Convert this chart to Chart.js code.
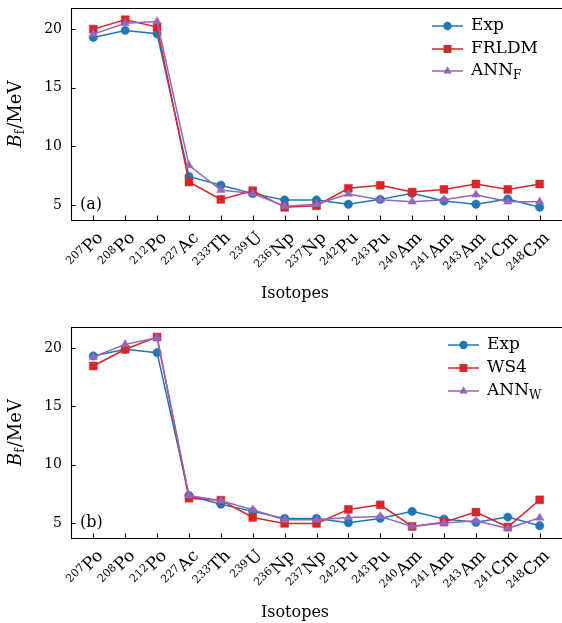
<!DOCTYPE html>
<html>
<head>
<meta charset="utf-8">
<script src="https://cdn.jsdelivr.net/npm/chart.js@4.4.0/dist/chart.umd.min.js"></script>
<style>
  html, body { margin: 0; padding: 0; background: #fff; overflow: hidden; }
  .panel { position: absolute; left: 0; width: 562px; }
  #wrapA { top: 0; height: 310px; }
  #wrapB { top: 310px; height: 313px; }
</style>
</head>
<body>
<div class="panel" id="wrapA"><canvas id="chartA"></canvas></div>
<div class="panel" id="wrapB"><canvas id="chartB"></canvas></div>
<script>
// --- dados ---
// número de massa e símbolo de cada isótopo
const massNumbers = ['207', '208', '212', '227', '233', '239', '236', '237', '242', '243', '240', '241', '243', '241', '248'];
const elements    = ['Po', 'Po', 'Po', 'Ac', 'Th', 'U', 'Np', 'Np', 'Pu', 'Pu', 'Am', 'Am', 'Am', 'Cm', 'Cm'];
const yTicks = [5, 10, 15, 20];

// painel (a)
const expA   = [19.29, 19.89, 19.60, 7.44, 6.68, 5.97, 5.43, 5.43, 5.06, 5.48, 6.00, 5.34, 5.06, 5.51, 4.80];
const frldm  = [20.00, 20.80, 20.17, 6.96, 5.48, 6.22, 4.80, 4.94, 6.42, 6.68, 6.10, 6.33, 6.79, 6.33, 6.79];
const annF   = [19.57, 20.50, 20.65, 8.38, 6.28, 5.97, 4.89, 5.06, 5.94, 5.45, 5.28, 5.45, 5.88, 5.28, 5.28];

// painel (b)
const expB   = [19.32, 19.89, 19.60, 7.36, 6.62, 6.00, 5.40, 5.40, 5.03, 5.40, 6.00, 5.34, 5.06, 5.51, 4.77];
const ws4    = [18.46, 19.89, 20.94, 7.13, 6.96, 5.48, 4.97, 4.97, 6.17, 6.56, 4.71, 5.08, 5.94, 4.66, 6.99];
const annW   = [19.23, 20.31, 20.88, 7.36, 6.91, 6.14, 5.28, 5.28, 5.48, 5.57, 4.71, 5.00, 5.20, 4.54, 5.45];

const BLUE = '#1f77b4', RED = '#d62728', PURPLE = '#9467bd';
const SERIF = "'DejaVu Serif', 'Liberation Serif', serif";

function toPoints(arr) {
  return arr.map((v, i) => ({ x: i, y: v }));
}

function series(label, data, color, style, order) {
  const radius = style === 'rect' ? 5.6 : (style === 'triangle' ? 4.8 : 4.2);
  return {
    label,
    data: toPoints(data),
    borderColor: color,
    backgroundColor: color,
    pointBackgroundColor: color,
    pointBorderColor: color,
    pointBorderWidth: 0.5,
    pointStyle: style,
    pointRadius: radius,
    borderWidth: 1.5,
    tension: 0,
    order
  };
}

// marcador simples para a legenda
function drawMarker(ctx, style, x, y, r, color) {
  ctx.fillStyle = color;
  ctx.beginPath();
  if (style === 'rect') {
    const s = r * Math.SQRT1_2;
    ctx.rect(x - s, y - s, 2 * s, 2 * s);
  } else if (style === 'triangle') {
    const w = r * Math.sqrt(3) / 2;
    ctx.moveTo(x, y - r);
    ctx.lineTo(x + w, y + r / 2);
    ctx.lineTo(x - w, y + r / 2);
    ctx.closePath();
  } else {
    ctx.arc(x, y, r, 0, Math.PI * 2);
  }
  ctx.fill();
}

// moldura, ticks internos, rótulos do eixo x, legenda, títulos
const decorPlugin = {
  id: 'decor',
  afterDraw(chart, args, o) {
    const { ctx, chartArea: a, scales: { x, y } } = chart;
    ctx.save();
    ctx.strokeStyle = '#000';
    ctx.lineWidth = 1.1;

    // ticks para dentro
    ctx.beginPath();
    x.ticks.forEach(t => {
      const px = Math.round(x.getPixelForValue(t.value)) + 0.5;
      ctx.moveTo(px, a.bottom);
      ctx.lineTo(px, a.bottom - 4.5);
    });
    y.ticks.forEach(t => {
      const py = Math.round(y.getPixelForValue(t.value)) + 0.5;
      ctx.moveTo(a.left, py);
      ctx.lineTo(a.left + 4.5, py);
    });
    ctx.stroke();

    // moldura (lado direito fica fora do quadro)
    ctx.beginPath();
    ctx.moveTo(a.right + 2, Math.round(a.top) + 0.5);
    ctx.lineTo(Math.round(a.left) + 0.5, Math.round(a.top) + 0.5);
    ctx.lineTo(Math.round(a.left) + 0.5, Math.round(a.bottom) + 0.5);
    ctx.lineTo(a.right + 2, Math.round(a.bottom) + 0.5);
    ctx.stroke();

    // rótulos do eixo x: ^{A}X girados 45°
    ctx.fillStyle = '#000';
    ctx.textBaseline = 'alphabetic';
    ctx.textAlign = 'left';
    x.ticks.forEach(t => {
      const i = t.value;
      const px = x.getPixelForValue(i);
      ctx.save();
      ctx.translate(px + 2, a.bottom + 10);
      ctx.rotate(-Math.PI / 4);
      ctx.font = '17px ' + SERIF;
      const wEl = ctx.measureText(elements[i]).width;
      ctx.fillText(elements[i], -wEl, 12);
      ctx.font = '11px ' + SERIF;
      const wMa = ctx.measureText(massNumbers[i]).width;
      ctx.fillText(massNumbers[i], -wEl - wMa - 0.5, 7);
      ctx.restore();
    });

    // legenda
    ctx.textBaseline = 'middle';
    chart.data.datasets.forEach((ds, i) => {
      const ly = o.legendY[i];
      ctx.strokeStyle = ds.borderColor;
      ctx.lineWidth = 1.5;
      ctx.beginPath();
      ctx.moveTo(o.legendX, ly);
      ctx.lineTo(o.legendX + 31, ly);
      ctx.stroke();
      drawMarker(ctx, ds.pointStyle, o.legendX + 15.5, ly, ds.pointRadius, ds.borderColor);
      const [main, sub] = ds.label.split('_');
      ctx.fillStyle = '#000';
      ctx.font = '17px ' + SERIF;
      ctx.textAlign = 'left';
      ctx.fillText(main, o.legendX + 39, ly);
      if (sub) {
        const w = ctx.measureText(main).width;
        ctx.font = '12px ' + SERIF;
        ctx.fillText(sub, o.legendX + 39 + w, ly + 5);
      }
    });

    // rótulo do painel
    ctx.fillStyle = '#000';
    ctx.font = '16px ' + SERIF;
    ctx.textAlign = 'left';
    ctx.fillText(o.panel, a.left + 9, o.panelY);

    // título eixo x
    ctx.font = '16px ' + SERIF;
    ctx.textAlign = 'center';
    ctx.textBaseline = 'alphabetic';
    ctx.fillText('Isotopes', o.xTitleX, o.xTitleY);

    // título eixo y: B_f/MeV
    ctx.translate(16, (a.top + a.bottom) / 2);
    ctx.rotate(-Math.PI / 2);
    ctx.textBaseline = 'middle';
    ctx.textAlign = 'left';
    const fB = 'italic 18px ' + SERIF, fSub = '12px ' + SERIF, fRest = '18px ' + SERIF;
    ctx.font = fB; const wB = ctx.measureText('B').width;
    ctx.font = fSub; const wS = ctx.measureText('f').width;
    ctx.font = fRest; const wR = ctx.measureText('/MeV').width;
    let cx = -(wB + wS + wR + 1) / 2;
    ctx.font = fB; ctx.fillText('B', cx, 0); cx += wB;
    ctx.font = fSub; ctx.fillText('f', cx, 5); cx += wS + 1;
    ctx.font = fRest; ctx.fillText('/MeV', cx, 0);
    ctx.restore();
  }
};

function makeChart(id, datasets, padTop, xHeight, decor) {
  return new Chart(document.getElementById(id), {
    type: 'line',
    data: { datasets },
    options: {
      responsive: true,
      maintainAspectRatio: false,
      animation: false,
      layout: { autoPadding: false, padding: { top: padTop, left: 0, right: 0, bottom: 0 } },
      plugins: {
        legend: { display: false },
        tooltip: { enabled: false },
        decor
      },
      scales: {
        x: {
          type: 'linear',
          min: -0.7,
          max: 14.7,
          afterBuildTicks: s => { s.ticks = elements.map((_, i) => ({ value: i })); },
          afterFit: s => { s.height = xHeight; s.paddingLeft = 0; s.paddingRight = 0; },
          grid: { display: false, drawTicks: false },
          border: { display: false },
          ticks: { display: false }
        },
        y: {
          type: 'linear',
          min: 3.72,
          max: 21.8,
          afterBuildTicks: s => { s.ticks = yTicks.map(v => ({ value: v })); },
          afterFit: s => { s.width = 71; s.paddingTop = 0; s.paddingBottom = 0; },
          grid: { display: false, drawTicks: false },
          border: { display: false },
          ticks: {
            padding: 9,
            color: '#000',
            font: { family: SERIF, size: 14 }
          }
        }
      }
    },
    plugins: [decorPlugin]
  });
}

makeChart('chartA', [
  series('Exp', expA, BLUE, 'circle', 3),
  series('FRLDM', frldm, RED, 'rect', 2),
  series('ANN_F', annF, PURPLE, 'triangle', 1)
], 8, 90, {
  legendX: 432, legendY: [26, 49, 71], panel: '(a)', panelY: 205,
  xTitleX: 295, xTitleY: 298
});

makeChart('chartB', [
  series('Exp', expB, BLUE, 'circle', 3),
  series('WS4', ws4, RED, 'rect', 2),
  series('ANN_W', annW, PURPLE, 'triangle', 1)
], 17, 85, {
  legendX: 448, legendY: [35, 58, 81], panel: '(b)', panelY: 213,
  xTitleX: 295, xTitleY: 307
});
</script>
</body>
</html>
